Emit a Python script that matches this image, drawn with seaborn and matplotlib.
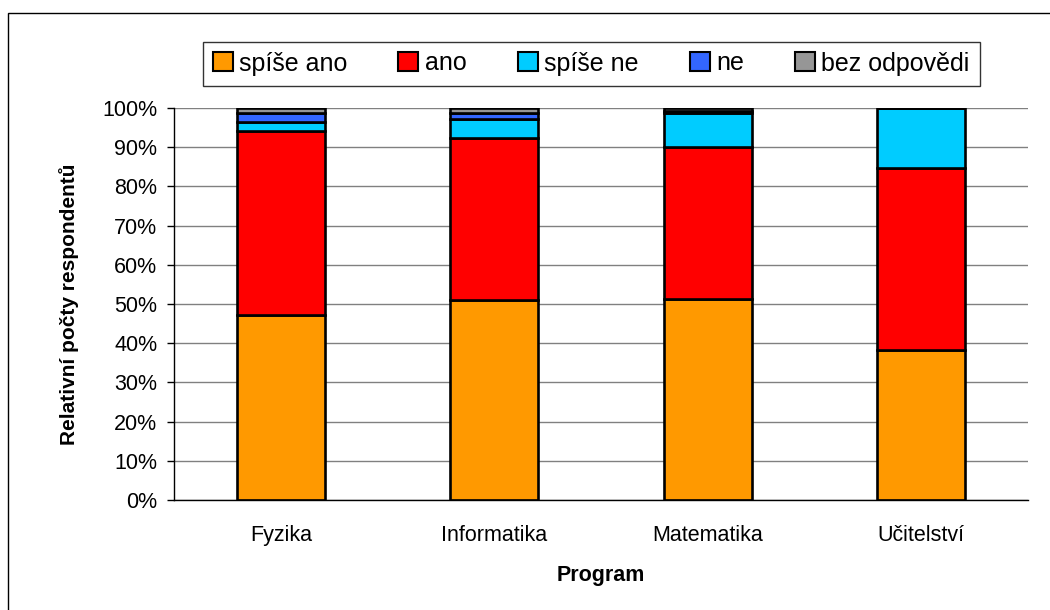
import matplotlib
matplotlib.use("Agg")
import matplotlib.pyplot as plt
import matplotlib.patches as mpatches
import seaborn as sns
import numpy as np

programs = ["Fyzika", "Informatika", "Matematika", "Učitelství"]
series_names = ["spíše ano", "ano", "spíše ne", "ne", "bez odpovědi"]
spise_ano = [47.2, 51.0, 51.3, 38.3]
ano = [46.9, 41.3, 38.8, 46.3]
spise_ne = [2.3, 4.8, 8.5, 15.4]
ne = [2.2, 1.5, 0.7, 0.0]
bez_odpovedi = [1.4, 1.4, 0.7, 0.0]
yticks = list(range(0, 101, 10))

colors = ["#FF9900", "#FF0000", "#00CCFF", "#3366FF", "#969696"]

sns.set_theme(style="white")
plt.rcParams["font.family"] = ["Liberation Sans", "DejaVu Sans"]
plt.rcParams["text.color"] = "black"
plt.rcParams["axes.labelcolor"] = "black"
plt.rcParams["xtick.color"] = "black"
plt.rcParams["ytick.color"] = "black"

fig = plt.figure(figsize=(10.5, 6.1), dpi=100)
ax = fig.add_axes([174 / 1050, 1 - 500 / 610, (1028 - 174) / 1050, (500 - 108) / 610])

# outer chart frame (right and bottom edges run off the picture)
fig.patches.append(mpatches.Rectangle((8 / 1050, -0.1), 1.2, 1.1 - 13 / 610,
                                      transform=fig.transFigure, fill=False,
                                      edgecolor="black", linewidth=1.0))

bottom = np.zeros(len(programs))
for name, vals, col in zip(series_names,
                           [spise_ano, ano, spise_ne, ne, bez_odpovedi], colors):
    sns.barplot(x=programs, y=vals, bottom=bottom, color=col, width=0.41,
                edgecolor="black", linewidth=1.9, saturation=1, ax=ax)
    bottom = bottom + np.array(vals)

ax.set_ylim(0, 100)
ax.set_xlim(-0.5, 3.5)
ax.set_yticks(yticks)
ax.set_yticklabels([f"{t}%" for t in yticks])
ax.set_axisbelow(True)
ax.yaxis.grid(True, color="#808080", linewidth=1.0)
ax.xaxis.grid(False)

for s in ["top", "right"]:
    ax.spines[s].set_visible(False)
for s in ["left", "bottom"]:
    ax.spines[s].set_color("black")
    ax.spines[s].set_linewidth(1.0)

ax.set_xticks(range(len(programs)))
ax.set_xticks([-0.5, 0.5, 1.5, 2.5, 3.5], minor=True)
ax.tick_params(axis="x", which="major", length=0, labelsize=15.5, pad=18)
ax.tick_params(axis="x", which="minor", length=5, width=1, direction="out")
ax.tick_params(axis="y", length=5, width=1, left=True, labelsize=15.5, pad=7)

ax.set_xlabel("Program", fontsize=15.5, fontweight="bold", labelpad=14)
ax.set_ylabel("Relativní počty respondentů", fontsize=15, fontweight="bold", labelpad=17)

handles = [mpatches.Patch(facecolor=c, edgecolor="black", linewidth=1.5, label=n)
           for n, c in zip(series_names, colors)]
leg = fig.legend(handles=handles, loc="center", ncol=5,
                 bbox_to_anchor=(591 / 1050, 1 - 63.5 / 610),
                 fontsize=18, frameon=True, fancybox=False,
                 handlelength=0.8, handleheight=0.8, handletextpad=0.25,
                 borderpad=0.4, columnspacing=2.05)
leg.get_frame().set_edgecolor("black")
leg.get_frame().set_linewidth(1.0)

fig.savefig("out.png", dpi=100)
